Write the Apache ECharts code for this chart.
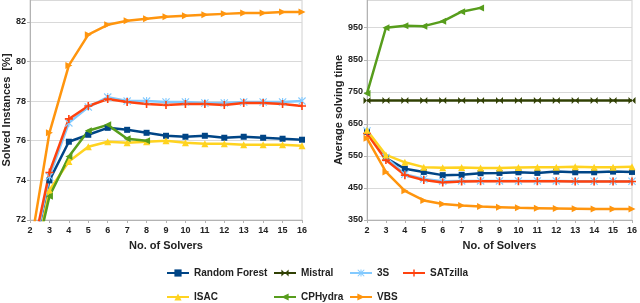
<!DOCTYPE html>
<html><head><meta charset="utf-8">
<script src="https://cdn.jsdelivr.net/npm/echarts@6/dist/echarts.min.js"></script>
<style>html,body{margin:0;padding:0;background:#fff}#c{width:640px;height:303px}</style>
</head><body><div id="c"></div>
<script>
// ---- data ----
const solvers = [2,3,4,5,6,7,8,9,10,11,12,13,14,15,16];
const xTicks = ['2','3','4','5','6','7','8','9','10','11','12','13','14','15','16'];
// Left: Solved Instances [%]
const solvedRF    = [69.5,74.0,75.95,76.3,76.65,76.55,76.4,76.25,76.2,76.25,76.15,76.2,76.15,76.1,76.05];
const solved3S    = [69.5,74.2,76.9,77.7,78.2,78.0,78.0,77.95,77.95,77.9,77.9,77.95,77.95,77.95,78.0];
const solvedSAT   = [69.8,74.4,77.1,77.75,78.1,77.95,77.85,77.8,77.85,77.85,77.8,77.9,77.9,77.85,77.75];
const solvedISAC  = [68.7,73.5,74.95,75.7,75.95,75.9,75.95,76.0,75.9,75.85,75.85,75.8,75.8,75.8,75.75];
const solvedCPH   = [68.9,73.2,75.2,76.5,76.8,76.1,76.0];
const solvedVBS   = [70.5,76.4,79.8,81.35,81.85,82.05,82.15,82.25,82.3,82.35,82.4,82.45,82.45,82.5,82.5];
// Right: Average solving time
const timeRF      = [625,543,510,500,490,491,496,497,499,497,501,499,499,501,500];
const timeMistral = [723,723,723,723,723,723,723,723,723,723,723,723,723,723,723];
const time3S      = [628,545,493,478,471,472,472,472,472,472,472,471,471,471,471];
const timeSAT     = [620,537,490,475,467,470,471,471,471,471,471,470,470,470,470];
const timeISAC    = [630,553,530,515,513,514,512,512,514,515,515,516,515,515,516];
const timeCPH     = [745,950,956,955,970,1000,1012];
const timeVBS     = [605,500,441,411,400,395,392,390,388,387,386,385,384,384,384];
const leftTicks  = [72,74,76,78,80,82];
const rightTicks = [350,450,550,650,750,850,950];

// ---- styles ----
const S = {
  'Random Forest': {color:'#004586', symbol:'rect', size:6},
  'Mistral': {color:'#314004', symbol:'path://M0,0L5,5L0,10Z M10,0L5,5L10,10Z', size:7},
  '3S': {color:'#83caff', symbol:'path://M0,1L1,0L5,4L9,0L10,1L6,5L10,9L9,10L5,6L1,10L0,9L4,5Z M4.3,0L5.7,0L5.7,10L4.3,10Z', size:8},
  'SATzilla': {color:'#ff420e', symbol:'path://M4,0L6,0L6,4L10,4L10,6L6,6L6,10L4,10L4,6L0,6L0,4L4,4Z', size:8},
  'ISAC': {color:'#ffd320', symbol:'triangle', size:7},
  'CPHydra': {color:'#579d1c', symbol:'path://M10,0L0,5L10,10Z', size:7},
  'VBS': {color:'#ff950e', symbol:'path://M0,0L10,5L0,10Z', size:7}
};
function mk(name, ys, axis){
  const s = S[name];
  return {
    name, type:'line', xAxisIndex:axis, yAxisIndex:axis,
    data: ys.map((v,i)=>[solvers[i], v]),
    symbol:s.symbol, symbolSize:s.size, showAllSymbol:true,
    lineStyle:{color:s.color, width:2.5},
    itemStyle:{color:s.color},
    clip:true, animation:false
  };
}
const series = [
  mk('Random Forest', solvedRF, 0), mk('3S', solved3S, 0), mk('SATzilla', solvedSAT, 0),
  mk('ISAC', solvedISAC, 0), mk('CPHydra', solvedCPH, 0), mk('VBS', solvedVBS, 0),
  mk('Random Forest', timeRF, 1), mk('Mistral', timeMistral, 1), mk('3S', time3S, 1),
  mk('SATzilla', timeSAT, 1), mk('ISAC', timeISAC, 1), mk('CPHydra', timeCPH, 1), mk('VBS', timeVBS, 1)
];

const FONT = 'Liberation Sans, Arial, sans-serif';
const lab = {color:'#222', fontWeight:'bold', fontSize:9, fontFamily:FONT};
const nameStyle = {color:'#222', fontWeight:'bold', fontSize:11, fontFamily:FONT};
function xAx(idx){
  return {type:'value', gridIndex:idx, min:2, max:16, interval:1,
    name:'No. of Solvers', nameLocation:'middle', nameGap:20, nameTextStyle:nameStyle,
    axisLine:{show:true, lineStyle:{color:'#b3b3b3'}},
    axisTick:{show:true, length:3, lineStyle:{color:'#b3b3b3'}},
    axisLabel:Object.assign({margin:6, formatter:v=>xTicks[solvers.indexOf(v)]||''}, lab),
    splitLine:{show:false}};
}
function yAx(idx, min, max, interval, ticks, name, gap){
  return {type:'value', gridIndex:idx, min, max, interval,
    name, nameLocation:'middle', nameGap:gap, nameTextStyle:nameStyle,
    axisLine:{show:true, lineStyle:{color:'#b3b3b3'}},
    axisTick:{show:true, length:3, lineStyle:{color:'#b3b3b3'}},
    axisLabel:Object.assign({margin:4, showMaxLabel:false,
      formatter:v=>ticks.includes(v)?String(v):''}, lab),
    splitLine:{show:true, lineStyle:{color:'#d9d9d9', width:1}}};
}
const legTxt = {color:'#222', fontWeight:'bold', fontSize:10, fontFamily:FONT};
function leg(left, names){
  return {orient:'vertical', left, top:268, height:34, padding:0, itemWidth:22, itemHeight:9, itemGap:14,
    data:names, textStyle:legTxt, selectedMode:false};
}
const chart = echarts.init(document.getElementById('c'), null, {renderer:'canvas'});
chart.setOption({
  backgroundColor:'#fff',
  animation:false,
  grid:[
    {left:30, top:-2, width:272, height:222, show:true, borderColor:'#d0d0d0', borderWidth:1, backgroundColor:'transparent'},
    {left:367, top:-2, width:269, height:222, show:true, borderColor:'#d0d0d0', borderWidth:1, backgroundColor:'transparent'}
  ],
  xAxis:[xAx(0), xAx(1)],
  yAxis:[
    yAx(0, 72, 83.1, 2, leftTicks, 'Solved Instances  [%]', 18),
    yAx(1, 350, 1036.6, 100, rightTicks, 'Average solving time', 20)
  ],
  legend:[
    leg(166, ['Random Forest','ISAC']),
    leg(273, ['Mistral','CPHydra']),
    leg(349, ['3S','VBS']),
    leg(402, ['SATzilla'])
  ],
  series
});
</script></body></html>
